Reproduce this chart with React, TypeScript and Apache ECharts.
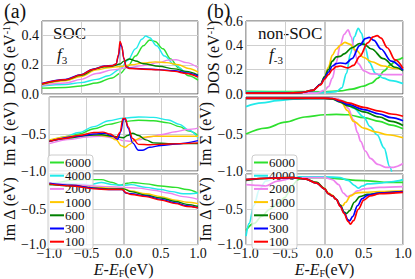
import React, { useEffect, useRef } from 'react';
import * as echarts from 'echarts';

const temps = ['6000', '4000', '2000', '1000', '600', '300', '100'];
const colors = ['#2ee02e', '#22eaea', '#ee82ee', '#ffc800', '#008000', '#0000ff', '#ff0000'];
const xTicks = [-1, -0.5, 0, 0.5, 1];

// (a) SOC, f3 : DOS
const dosSoc6000 = [[-1,0.04],[-0.7,0.045],[-0.5,0.055],[-0.3,0.075],[-0.1,0.11],[0,0.14],[0.1,0.19],[0.2,0.26],[0.3,0.33],[0.38,0.37],[0.45,0.36],[0.55,0.31],[0.65,0.24],[0.75,0.18],[0.88,0.125],[1,0.095]];
const dosSoc4000 = [[-1,0.055],[-0.7,0.065],[-0.5,0.078],[-0.3,0.1],[-0.15,0.125],[0,0.17],[0.1,0.23],[0.2,0.31],[0.28,0.375],[0.33,0.397],[0.38,0.385],[0.47,0.33],[0.57,0.26],[0.7,0.2],[0.85,0.15],[1,0.115]];
const dosSoc2000 = [[-1,0.06],[-0.7,0.075],[-0.5,0.1],[-0.3,0.14],[-0.1,0.165],[0.1,0.18],[0.3,0.195],[0.5,0.215],[0.62,0.232],[0.72,0.235],[0.85,0.215],[1,0.18]];
const dosSoc1000 = [[-1,0.065],[-0.7,0.09],[-0.5,0.12],[-0.3,0.165],[-0.15,0.18],[0,0.188],[0.15,0.2],[0.3,0.212],[0.45,0.22],[0.6,0.215],[0.75,0.2],[0.88,0.175],[1,0.15]];
const dosSoc600 = [[-1,0.068],[-0.7,0.095],[-0.5,0.128],[-0.3,0.175],[-0.2,0.186],[-0.1,0.19],[0,0.205],[0.05,0.225],[0.12,0.24],[0.2,0.226],[0.3,0.207],[0.5,0.19],[0.7,0.172],[0.85,0.155],[1,0.13]];
const dosSoc300 = [[-1,0.072],[-0.7,0.1],[-0.5,0.133],[-0.35,0.17],[-0.2,0.192],[-0.1,0.195],[-0.05,0.205],[-0.02,0.26],[0.005,0.35],[0.025,0.32],[0.05,0.24],[0.08,0.185],[0.12,0.177],[0.3,0.172],[0.5,0.167],[0.7,0.16],[0.85,0.145],[1,0.125]];
const dosSoc100 = [[-1,0.07],[-0.7,0.098],[-0.5,0.131],[-0.35,0.168],[-0.2,0.19],[-0.1,0.193],[-0.05,0.205],[-0.02,0.27],[0,0.36],[0.02,0.335],[0.05,0.245],[0.08,0.185],[0.12,0.175],[0.3,0.17],[0.5,0.165],[0.7,0.155],[0.85,0.14],[1,0.115]];

// (b) non-SOC, f-3 : DOS
const dosNon6000 = [[-1,0.022],[-0.5,0.02],[0,0.018],[0.2,0.025],[0.35,0.04],[0.5,0.065],[0.6,0.09],[0.68,0.13],[0.76,0.19],[0.84,0.24],[0.92,0.28],[1,0.3]];
const dosNon4000 = [[-1,0.015],[-0.5,0.013],[0,0.012],[0.15,0.02],[0.22,0.05],[0.28,0.17],[0.33,0.33],[0.38,0.47],[0.43,0.54],[0.47,0.5],[0.52,0.38],[0.57,0.26],[0.65,0.17],[0.75,0.13],[0.85,0.11],[1,0.085]];
const dosNon2000 = [[-1,0.006],[-0.5,0.005],[-0.1,0.008],[0,0.03],[0.05,0.06],[0.1,0.13],[0.15,0.26],[0.2,0.4],[0.25,0.49],[0.3,0.527],[0.34,0.47],[0.38,0.36],[0.43,0.25],[0.5,0.19],[0.6,0.165],[0.8,0.16],[1,0.16]];
const dosNon1000 = [[-1,0.01],[-0.5,0.01],[-0.3,0.012],[-0.15,0.03],[-0.05,0.08],[0,0.14],[0.05,0.22],[0.1,0.32],[0.15,0.37],[0.2,0.4],[0.26,0.425],[0.32,0.41],[0.4,0.36],[0.5,0.3],[0.6,0.265],[0.75,0.23],[0.9,0.21],[1,0.2]];
const dosNon600 = [[-1,0.008],[-0.5,0.008],[-0.3,0.012],[-0.15,0.03],[-0.05,0.08],[0,0.14],[0.05,0.2],[0.1,0.27],[0.15,0.305],[0.2,0.31],[0.25,0.33],[0.35,0.38],[0.45,0.415],[0.5,0.41],[0.6,0.37],[0.75,0.29],[0.9,0.22],[1,0.19]];
const dosNon300 = [[-1,0.008],[-0.5,0.008],[-0.3,0.012],[-0.15,0.03],[-0.05,0.08],[0,0.13],[0.05,0.18],[0.1,0.23],[0.15,0.25],[0.2,0.255],[0.27,0.25],[0.35,0.29],[0.45,0.4],[0.52,0.455],[0.57,0.465],[0.63,0.44],[0.72,0.37],[0.85,0.27],[1,0.195]];
const dosNon100 = [[-1,0.008],[-0.5,0.008],[-0.3,0.012],[-0.15,0.03],[-0.05,0.075],[0,0.12],[0.05,0.16],[0.1,0.2],[0.15,0.225],[0.2,0.23],[0.3,0.215],[0.37,0.235],[0.45,0.31],[0.55,0.42],[0.62,0.47],[0.67,0.48],[0.72,0.46],[0.8,0.38],[0.9,0.28],[1,0.21]];

// (a) Im Sigma
const sigSoc6000 = [[-1,-0.6],[-0.8,-0.55],[-0.6,-0.5],[-0.4,-0.43],[-0.2,-0.37],[0,-0.33],[0.2,-0.315],[0.4,-0.32],[0.6,-0.35],[0.75,-0.4],[0.88,-0.46],[1,-0.52]];
const sigSoc4000 = [[-1,-0.6],[-0.8,-0.54],[-0.6,-0.48],[-0.4,-0.4],[-0.2,-0.32],[0,-0.285],[0.2,-0.27],[0.4,-0.275],[0.6,-0.31],[0.75,-0.37],[0.88,-0.45],[1,-0.55]];
const sigSoc2000 = [[-1,-0.63],[-0.7,-0.57],[-0.5,-0.54],[-0.3,-0.53],[-0.1,-0.56],[0,-0.59],[0.1,-0.6],[0.2,-0.58],[0.35,-0.54],[0.5,-0.51],[0.7,-0.47],[0.85,-0.44],[1,-0.42]];
const sigSoc1000 = [[-1,-0.58],[-0.6,-0.52],[-0.4,-0.51],[-0.2,-0.53],[-0.1,-0.58],[-0.03,-0.66],[0.02,-0.68],[0.08,-0.64],[0.15,-0.58],[0.25,-0.545],[0.4,-0.53],[0.6,-0.53],[1,-0.53]];
const sigSoc600 = [[-1,-0.6],[-0.7,-0.55],[-0.5,-0.52],[-0.3,-0.51],[-0.15,-0.53],[0,-0.55],[0.05,-0.52],[0.12,-0.49],[0.2,-0.52],[0.3,-0.58],[0.4,-0.62],[0.6,-0.63],[1,-0.63]];
const sigSoc300 = [[-1,-0.6],[-0.6,-0.53],[-0.4,-0.5],[-0.25,-0.49],[-0.15,-0.53],[-0.08,-0.57],[-0.04,-0.47],[0,-0.3],[0.02,-0.29],[0.06,-0.42],[0.12,-0.62],[0.2,-0.72],[0.25,-0.72],[0.35,-0.68],[0.5,-0.655],[0.7,-0.635],[1,-0.59]];
const sigSoc100 = [[-1,-0.6],[-0.8,-0.56],[-0.6,-0.52],[-0.4,-0.48],[-0.28,-0.475],[-0.18,-0.5],[-0.1,-0.55],[-0.05,-0.48],[-0.01,-0.29],[0.02,-0.29],[0.06,-0.4],[0.12,-0.56],[0.2,-0.64],[0.35,-0.645],[0.6,-0.635],[1,-0.62]];

// (b) Im Sigma
const sigNon6000 = [[-1,-0.5],[-0.75,-0.42],[-0.5,-0.34],[-0.25,-0.27],[0,-0.24],[0.15,-0.235],[0.3,-0.24],[0.5,-0.28],[0.7,-0.33],[0.85,-0.38],[1,-0.43]];
const sigNon4000 = [[-1,-0.13],[-0.8,-0.08],[-0.6,-0.05],[-0.4,-0.03],[-0.2,-0.02],[0,-0.02],[0.15,-0.025],[0.25,-0.06],[0.37,-0.15],[0.5,-0.27],[0.58,-0.4],[0.67,-0.51],[0.76,-0.69],[0.83,-0.94],[0.88,-1.15]];
const sigNon2000 = [[-1,-0.015],[0,-0.015],[0.15,-0.02],[0.22,-0.05],[0.3,-0.15],[0.37,-0.31],[0.42,-0.48],[0.46,-0.6],[0.52,-0.73],[0.585,-0.83],[0.68,-0.91],[0.78,-0.95],[0.88,-0.95],[1,-0.9]];
const sigNon1000 = [[-1,-0.02],[0,-0.02],[0.1,-0.025],[0.17,-0.04],[0.22,-0.08],[0.29,-0.18],[0.37,-0.33],[0.5,-0.42],[0.65,-0.47],[0.8,-0.51],[1,-0.55]];
const sigNon600 = [[-1,-0.02],[0,-0.02],[0.1,-0.025],[0.2,-0.07],[0.3,-0.12],[0.5,-0.2],[0.7,-0.27],[0.85,-0.33],[1,-0.385]];
const sigNon300 = [[-1,-0.018],[0,-0.018],[0.1,-0.02],[0.2,-0.06],[0.3,-0.1],[0.5,-0.17],[0.7,-0.23],[0.85,-0.28],[1,-0.32]];
const sigNon100 = [[-1,-0.015],[0,-0.015],[0.1,-0.02],[0.2,-0.05],[0.3,-0.08],[0.5,-0.14],[0.7,-0.19],[0.85,-0.23],[1,-0.26]];

// (a) Im Delta
const delSoc6000 = [[-1,-0.17],[-0.9,-0.12],[-0.7,-0.09],[-0.5,-0.08],[-0.3,-0.08],[-0.15,-0.12],[-0.05,-0.16],[0.05,-0.13],[0.12,-0.12],[0.3,-0.14],[0.5,-0.17],[0.7,-0.19],[0.85,-0.22],[1,-0.27]];
const delSoc4000 = [[-1,-0.13],[-0.8,-0.13],[-0.6,-0.14],[-0.45,-0.15],[-0.3,-0.12],[-0.15,-0.15],[0,-0.16],[0.1,-0.15],[0.3,-0.19],[0.5,-0.22],[0.65,-0.25],[0.8,-0.28],[0.9,-0.28],[1,-0.27]];
const delSoc2000 = [[-1,-0.13],[-0.7,-0.15],[-0.4,-0.17],[-0.2,-0.18],[0,-0.19],[0.2,-0.2],[0.4,-0.23],[0.6,-0.27],[0.8,-0.32],[1,-0.36]];
const delSoc1000 = [[-1,-0.14],[-0.7,-0.16],[-0.4,-0.19],[-0.2,-0.2],[0,-0.21],[0.1,-0.24],[0.3,-0.28],[0.5,-0.32],[0.7,-0.37],[0.85,-0.4],[1,-0.42]];
const delSoc600 = [[-1,-0.15],[-0.7,-0.17],[-0.4,-0.2],[-0.2,-0.21],[0,-0.21],[0.1,-0.25],[0.3,-0.3],[0.5,-0.34],[0.7,-0.39],[0.85,-0.43],[1,-0.46]];
const delSoc300 = [[-1,-0.13],[-0.7,-0.16],[-0.4,-0.2],[-0.2,-0.22],[-0.02,-0.22],[0.03,-0.27],[0.1,-0.28],[0.3,-0.31],[0.5,-0.36],[0.7,-0.41],[0.85,-0.45],[1,-0.48]];
const delSoc100 = [[-1,-0.14],[-0.7,-0.17],[-0.4,-0.21],[-0.2,-0.22],[-0.02,-0.22],[0.04,-0.27],[0.1,-0.29],[0.3,-0.32],[0.5,-0.37],[0.7,-0.42],[0.85,-0.46],[1,-0.48]];

// (b) Im Delta
const delNon6000 = [[-1,-0.8],[-0.9,-0.7],[-0.8,-0.6],[-0.7,-0.5],[-0.6,-0.42],[-0.5,-0.33],[-0.45,-0.25],[-0.4,-0.15],[-0.34,-0.08],[-0.25,-0.05],[0,-0.05],[0.2,-0.07],[0.4,-0.09],[0.6,-0.1],[0.8,-0.12],[1,-0.12]];
const delNon4000 = [[-1,-0.88],[-0.96,-0.7],[-0.9,-0.45],[-0.83,-0.22],[-0.75,-0.1],[-0.6,-0.05],[-0.3,-0.04],[0,-0.04],[0.2,-0.05],[0.3,-0.09],[0.38,-0.16],[0.43,-0.2],[0.48,-0.17],[0.55,-0.14],[0.7,-0.13],[0.85,-0.11],[1,-0.08]];
const delNon2000 = [[-1,-0.15],[-0.85,-0.16],[-0.75,-0.17],[-0.6,-0.1],[-0.4,-0.06],[-0.2,-0.05],[0,-0.05],[0.1,-0.08],[0.18,-0.15],[0.24,-0.27],[0.29,-0.32],[0.34,-0.3],[0.42,-0.24],[0.5,-0.21],[0.7,-0.19],[1,-0.18]];
const delNon1000 = [[-1,-0.08],[-0.7,-0.06],[-0.4,-0.05],[-0.25,-0.07],[-0.1,-0.12],[0,-0.2],[0.05,-0.27],[0.1,-0.3],[0.15,-0.36],[0.2,-0.44],[0.23,-0.45],[0.27,-0.4],[0.33,-0.31],[0.4,-0.27],[0.5,-0.26],[0.7,-0.25],[1,-0.24]];
const delNon600 = [[-1,-0.09],[-0.7,-0.06],[-0.4,-0.05],[-0.25,-0.07],[-0.1,-0.12],[0,-0.21],[0.05,-0.28],[0.1,-0.31],[0.15,-0.36],[0.2,-0.44],[0.25,-0.54],[0.28,-0.56],[0.32,-0.52],[0.38,-0.4],[0.45,-0.32],[0.55,-0.29],[0.7,-0.27],[1,-0.25]];
const delNon300 = [[-1,-0.08],[-0.7,-0.06],[-0.4,-0.05],[-0.25,-0.07],[-0.1,-0.13],[0,-0.21],[0.05,-0.28],[0.1,-0.31],[0.15,-0.36],[0.2,-0.45],[0.25,-0.55],[0.3,-0.65],[0.32,-0.665],[0.36,-0.6],[0.42,-0.45],[0.48,-0.35],[0.55,-0.3],[0.7,-0.27],[1,-0.25]];
const delNon100 = [[-1,-0.08],[-0.7,-0.06],[-0.4,-0.05],[-0.25,-0.07],[-0.1,-0.13],[0,-0.21],[0.05,-0.28],[0.1,-0.31],[0.15,-0.36],[0.2,-0.46],[0.25,-0.56],[0.3,-0.67],[0.33,-0.71],[0.37,-0.66],[0.43,-0.5],[0.5,-0.37],[0.58,-0.31],[0.7,-0.28],[1,-0.26]];

const panelData = [
  [dosSoc6000, dosSoc4000, dosSoc2000, dosSoc1000, dosSoc600, dosSoc300, dosSoc100],
  [dosNon6000, dosNon4000, dosNon2000, dosNon1000, dosNon600, dosNon300, dosNon100],
  [sigSoc6000, sigSoc4000, sigSoc2000, sigSoc1000, sigSoc600, sigSoc300, sigSoc100],
  [sigNon6000, sigNon4000, sigNon2000, sigNon1000, sigNon600, sigNon300, sigNon100],
  [delSoc6000, delSoc4000, delSoc2000, delSoc1000, delSoc600, delSoc300, delSoc100],
  [delNon6000, delNon4000, delNon2000, delNon1000, delNon600, delNon300, delNon100],
];

const FONT = '"Liberation Serif", "Times New Roman", serif';
const TXT = '#111';

function fmt(v: number) {
  return v.toFixed(1).replace('-', '\u2212');
}

export default function App() {
  const ref = useRef<HTMLDivElement>(null);
  useEffect(() => {
    if (!ref.current) return;
    const chart = echarts.init(ref.current, null, { renderer: 'svg' });
    const grids = [
      { left: 42, top: 21, width: 156, height: 73 },
      { left: 246, top: 21, width: 157, height: 73 },
      { left: 42, top: 97, width: 156, height: 74 },
      { left: 246, top: 97, width: 157, height: 74 },
      { left: 42, top: 174, width: 156, height: 75 },
      { left: 246, top: 174, width: 157, height: 75 },
    ].map((g) => ({ ...g, show: true, borderColor: '#555', borderWidth: 1, backgroundColor: 'transparent' }));

    const nameStyle = {
      fontFamily: FONT, fontSize: 16, color: TXT,
      rich: {
        n: { fontFamily: FONT, fontSize: 16, color: TXT, lineHeight: 17 },
        s: { fontFamily: FONT, fontSize: 10, color: TXT, verticalAlign: 'top', lineHeight: 17, padding: [0, 0, 5, 0] },
        i: { fontFamily: FONT, fontSize: 16, color: TXT, fontStyle: 'italic', lineHeight: 17 },
        b: { fontFamily: FONT, fontSize: 10, color: TXT, verticalAlign: 'bottom', lineHeight: 17, padding: [5, 0, 0, 0] },
      },
    };

    const xAxis = grids.map((_, i) => ({
      type: 'value', gridIndex: i, min: xTicks[0], max: xTicks[xTicks.length - 1], interval: 0.5,
      axisLine: { show: false }, axisTick: { show: false },
      splitLine: { show: true, lineStyle: { color: '#cfcfcf', width: 1 } },
      axisLabel: {
        show: i >= 4, margin: 2, fontFamily: FONT, fontSize: 14, color: TXT,
        formatter: (v: number) => fmt(v),
      },
      name: i >= 4 ? '{i|E}{n|-}{i|E}{b|F}{n|(eV)}' : '',
      nameLocation: 'middle', nameGap: 15,
      nameTextStyle: nameStyle,
    }));

    const yNames = [
      '{n|DOS (eV}{s|-1}{n|)}', '{n|DOS (eV}{s|-1}{n|)}',
      '{n|Im \u03A3 (eV)}', '{n|Im \u03A3 (eV)}',
      '{n|Im \u0394 (eV)}', '{n|Im \u0394 (eV)}',
    ];
    const yAxis = grids.map((_, i) => {
      const row = Math.floor(i / 2);
      const base: any = {
        type: 'value', gridIndex: i,
        axisLine: { show: false }, axisTick: { show: false },
        splitLine: { show: true, lineStyle: { color: '#cfcfcf', width: 1 } },
        name: yNames[i], nameLocation: 'middle', nameGap: 24, nameRotate: 90,
        nameTextStyle: nameStyle,
      };
      if (row === 0) {
        const mx = i === 0 ? 0.5 : 0.6;
        return {
          ...base, min: 0, max: mx, interval: 0.2,
          axisLabel: {
            margin: 3, fontFamily: FONT, fontSize: 14, color: TXT,
            formatter: (v: number) => (Math.abs(Math.round(v * 5) - v * 5) > 1e-6 ? '' : fmt(v)),
          },
        };
      }
      return {
        ...base, min: -1, max: 0, interval: 0.5,
        axisLabel: {
          margin: 3, fontFamily: FONT, fontSize: 14, color: TXT,
          formatter: (v: number) => (Math.abs(v) < 1e-9 ? '' : fmt(v)),
        },
      };
    });

    const series: any[] = [];
    panelData.forEach((arrs, gi) => {
      arrs.forEach((d, si) => {
        series.push({
          type: 'line', name: temps[si], xAxisIndex: gi, yAxisIndex: gi,
          data: d, showSymbol: false, symbol: 'none', smooth: 0.35, smoothMonotone: 'x',
          clip: true,
          lineStyle: { color: colors[si], width: gi % 2 === 0 ? 1.4 : 1.7 },
          itemStyle: { color: colors[si] },
          markLine: si === 0 ? {
            silent: true, symbol: ['none', 'none'], label: { show: false },
            lineStyle: { color: '#c8c8c8', width: 2, type: 'solid' },
            data: [{ xAxis: 0 }],
          } : undefined,
          z: 2 + si,
        });
      });
    });

    const legendBase = {
      data: temps, orient: 'vertical', top: 155, icon: 'rect',
      itemWidth: 14, itemHeight: 2, itemGap: 0.2,
      padding: [1, 2, 1, 2],
      backgroundColor: 'rgba(255,255,255,0.8)', borderColor: '#cccccc', borderWidth: 1, borderRadius: 3,
      textStyle: { fontFamily: FONT, fontSize: 13, color: TXT, lineHeight: 12, padding: [0, 0, 0, -4] },
      selectedMode: false,
    };

    const richF = {
      f: { fontFamily: FONT, fontSize: 17, fontStyle: 'italic', fill: TXT, lineHeight: 22 },
      s: { fontFamily: FONT, fontSize: 11, fill: TXT, verticalAlign: 'bottom', lineHeight: 22 },
    };

    chart.setOption({
      animation: false,
      grid: grids,
      xAxis, yAxis, series,
      legend: [{ ...legendBase, left: 48 }, { ...legendBase, left: 252 }],
      graphic: [
        { type: 'text', left: 4, top: 1, style: { text: '(a)', font: `20px ${FONT}`, fill: TXT } },
        { type: 'text', left: 207, top: 1, style: { text: '(b)', font: `20px ${FONT}`, fill: TXT } },
        { type: 'text', left: 53, top: 25, style: { text: 'SOC', font: `17px ${FONT}`, fill: TXT } },
        { type: 'text', left: 57, top: 46, style: { text: '{f|f}{s|3}', rich: richF, fill: TXT } },
        { type: 'text', left: 258, top: 25, style: { text: 'non-SOC', font: `17px ${FONT}`, fill: TXT } },
        { type: 'text', left: 269, top: 46, style: { text: '{f|f}{s|-3}', rich: richF, fill: TXT } },
      ],
    });
    return () => chart.dispose();
  }, []);
  return <div ref={ref} style={{ position: 'fixed', left: 0, top: 0, width: 415, height: 279, background: '#fff' }} />;
}
